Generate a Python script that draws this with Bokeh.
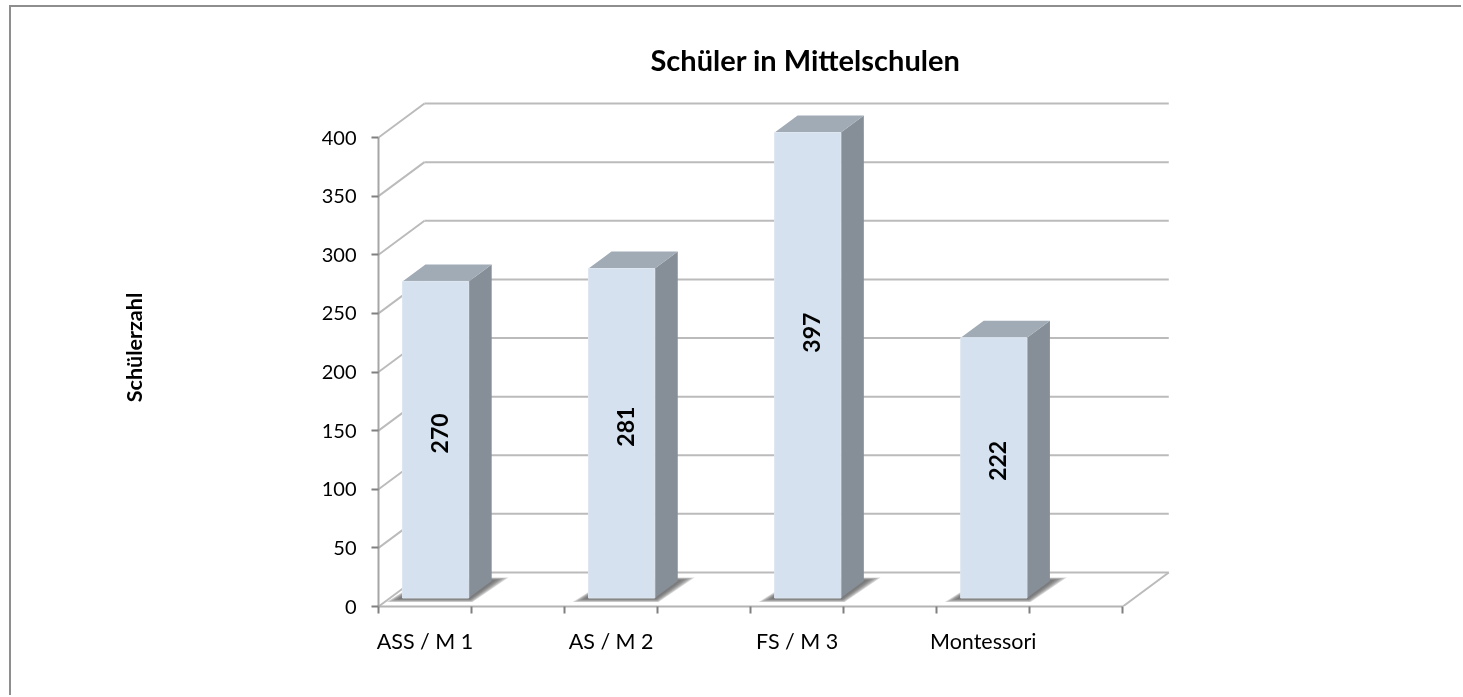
from bokeh.plotting import figure
from bokeh.embed import file_html
from bokeh.resources import INLINE
from bokeh.core.properties import value
from bokeh.models import Range1d, FixedTicker, ColumnDataSource, Title

# data
categories = ["ASS / M 1", "AS / M 2", "FS / M 3", "Montessori"]
pupils = [270, 281, 397, 222]
y_ticks = [0, 50, 100, 150, 200, 250, 300, 350, 400]
title_text = "Schüler in Mittelschulen"
y_title = "Schülerzahl"

# 3D projection, in data units
DX = 0.247          # depth along x
DY = 29.0           # depth along y
HALF = 0.178        # half bar width
NEAR, FAR = 0.25, 0.75
X0, X1 = -0.25, 3.75

FRONT, SIDE, TOP = "#D5E1EF", "#868E97", "#A0ABB5"
GRID = "#BBBBBB"

p = figure(width=1452, height=690, output_backend="svg", toolbar_location=None,
           x_range=Range1d(X0, X1 + DX + 0.02), y_range=Range1d(0, 441.8),
           min_border_left=367, min_border_right=291, min_border_top=81, min_border_bottom=91,
           background_fill_color="white", border_fill_color="white", outline_line_color=None)
# the chart's outer border: only its top and left edges fall inside the picture
p.styles = {"position": "fixed", "left": "9px", "top": "5px",
            "border-left": "2px solid #8E8E8E", "border-top": "2px solid #8E8E8E"}
p.grid.visible = False

t = Title(text=title_text, align="left", offset=272, text_font="Lato",
          text_font_size="29px", text_font_style="bold", text_color="#000000", standoff=23)
p.add_layout(t, "above")

# axes
yax = p.yaxis[0]
yax.ticker = FixedTicker(ticks=y_ticks)
yax.bounds = (0, 400)
yax.axis_label = y_title
yax.axis_label_text_font = "Lato"
yax.axis_label_text_font_size = "21.5px"
yax.axis_label_text_font_style = "bold"
yax.axis_label_text_color = "#000000"
yax.axis_label_standoff = 172
yax.major_label_text_font = "Lato"
yax.major_label_text_font_size = "20px"
yax.major_label_text_color = "#000000"
yax.major_label_standoff = 15
yax.major_tick_out = 7
yax.major_tick_in = 0
yax.minor_tick_out = 0
yax.minor_tick_in = 0
yax.axis_line_color = "#A6A6A6"
yax.axis_line_width = 2
yax.major_tick_line_color = "#808080"
yax.major_tick_line_width = 2

xax = p.xaxis[0]
xax.ticker = FixedTicker(ticks=list(range(len(categories))),
                         minor_ticks=[X0 + 0.5 * i for i in range(2 * len(categories) + 1)])
xax.major_label_overrides = {i: c for i, c in enumerate(categories)}
xax.bounds = (X0, X1)
xax.major_label_text_font = "Lato"
xax.major_label_text_font_size = "21.5px"
xax.major_label_text_color = "#000000"
xax.major_label_standoff = 14
xax.major_tick_out = 0
xax.major_tick_in = 0
xax.minor_tick_out = 7
xax.minor_tick_in = 0
xax.minor_tick_line_color = "#808080"
xax.minor_tick_line_width = 2
xax.axis_line_color = "#B4B4B4"
xax.axis_line_width = 2

# walls: back gridlines and left side lines
p.multi_line(xs=[[X0 + DX, X1 + DX] for _ in y_ticks],
             ys=[[v + DY, v + DY] for v in y_ticks],
             line_color=GRID, line_width=2)
p.multi_line(xs=[[X0, X0 + DX] for _ in y_ticks],
             ys=[[v, v + DY] for v in y_ticks],
             line_color=GRID, line_width=2)
p.line([X1, X1 + DX], [0, DY], line_color=GRID, line_width=2)

# bars
lefts = [i + NEAR * DX - 0.005 - HALF for i in range(len(pupils))]
rights = [i + NEAR * DX - 0.005 + HALF for i in range(len(pupils))]
y_near = NEAR * DY
y_far = FAR * DY
shift_x = (FAR - NEAR) * DX

# soft floor shadow
for s in [1.0, 0.85, 0.7, 0.55, 0.4, 0.25]:
    sx = [[l - 0.085 * s, r + 0.02 * s, r + shift_x + 0.09 * s, l + shift_x]
          for l, r in zip(lefts, rights)]
    sy = [[y_near - 3.5 * s, y_near - 3.5 * s, y_far + 3 * s, y_far + 3 * s] for _ in pupils]
    p.patches(sx, sy, fill_color="#606060", fill_alpha=0.25, line_color=None)

p.patches([[r, r + shift_x, r + shift_x, r] for r in rights],
          [[y_near, y_far, v + y_far, v + y_near] for v in pupils],
          fill_color=SIDE, line_color=None)
p.patches([[l, r, r + shift_x, l + shift_x] for l, r in zip(lefts, rights)],
          [[v + y_near, v + y_near, v + y_far, v + y_far] for v in pupils],
          fill_color=TOP, line_color=None)
p.quad(left=lefts, right=rights, bottom=[y_near] * len(pupils),
       top=[v + y_near for v in pupils],
       fill_color=FRONT, line_color="#DDE6F1", line_width=1)

# value labels
label_share = [0.52, 0.52, 0.57, 0.527]
src = ColumnDataSource(dict(
    x=[(l + r) / 2 + 0.02 for l, r in zip(lefts, rights)],
    y=[y_near + v * f for v, f in zip(pupils, label_share)],
    t=[str(v) for v in pupils]))
p.text("x", "y", text="t", source=src, angle=1.5708, angle_units="rad",
       text_font=value("Lato"), text_font_size="23px", text_font_style="bold",
       text_color="#000000", text_align="center", text_baseline="middle")

open("out.html", "w").write(file_html(p, INLINE))
